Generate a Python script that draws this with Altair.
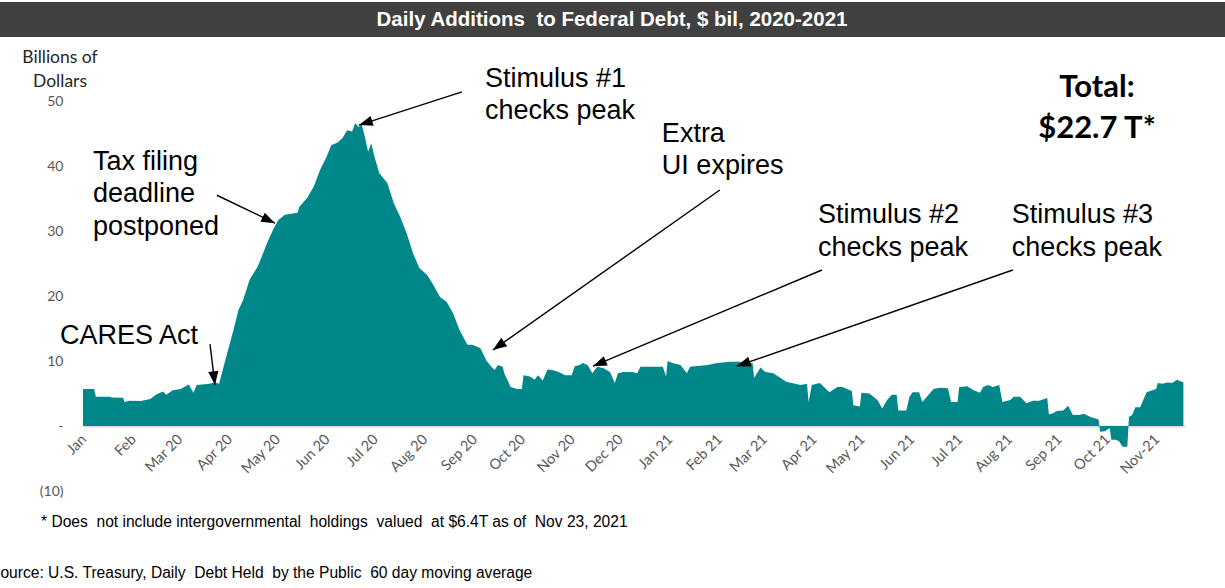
import json
import math

import altair as alt
import pandas as pd

# 60-day moving average of daily additions to federal debt held by the public,
# $ billions, keyed by days elapsed since 2020-01-01
day = [0, 7, 8, 17, 18, 25, 26, 29, 36, 42, 46, 50, 52, 56, 61, 66, 69, 71, 79, 82,
       85, 86, 90, 94, 97, 100, 104, 109, 112, 115, 119, 122, 126, 134, 135, 140, 144,
       148, 152, 155, 159, 162, 165, 168, 170, 172, 174, 176, 178, 180, 182, 185, 190,
       194, 198, 202, 206, 210, 215, 218, 223, 227, 231, 235, 240, 243, 248, 252, 255,
       257, 259, 262, 263, 267, 271, 274, 275, 279, 282, 284, 287, 290, 293, 297, 301,
       305, 307, 310, 312, 315, 318, 321, 325, 329, 332, 334, 337, 343, 346, 348, 356,
       362, 364, 365, 368, 373, 377, 379, 390, 396, 404, 410, 418, 419, 423, 426, 431,
       439, 448, 452, 453, 455, 460, 466, 471, 474, 480, 481, 485, 486, 491, 496, 499,
       502, 505, 508, 509, 514, 516, 518, 522, 524, 531, 535, 540, 542, 546, 547, 552,
       556, 560, 562, 565, 568, 572, 574, 579, 581, 585, 589, 593, 597, 602, 603, 605,
       608, 612, 615, 618, 622, 625, 629, 634, 635, 638, 641, 642, 645, 647, 649, 652,
       653, 655, 657, 660, 664, 670, 671, 674, 677, 680, 683, 687]
bil = [5.7, 5.7, 4.5, 4.5, 4.4, 4.35, 3.7, 3.9, 3.85, 4.15, 4.9, 5.3, 4.8, 5.5, 5.7, 6.4,
       5.1, 6.3, 6.5, 6.7, 6.5, 7.5, 11.2, 14.8, 17.8, 19.4, 22.5, 24.5, 26.3, 28.2, 30.4,
       31.7, 32.5, 32.8, 33.7, 35.1, 36.8, 39.4, 41.4, 43.2, 43.6, 44.3, 45.5, 45.3, 46.6,
       46.0, 46.4, 44.5, 42.2, 43.5, 41.4, 38.9, 37.4, 34.3, 32.2, 29.7, 26.6, 24.3, 23.2,
       22.0, 19.8, 19.1, 17.4, 14.8, 12.5, 12.5, 12.0, 10.0, 9.1, 8.6, 9.4, 9.1, 8.1, 6.0,
       5.7, 5.7, 7.8, 7.6, 7.1, 7.8, 7.0, 8.7, 8.6, 8.3, 7.8, 7.8, 9.2, 9.4, 9.7, 9.4, 8.1,
       9.1, 8.9, 8.3, 6.6, 8.1, 8.3, 8.3, 8.1, 9.1, 9.1, 9.1, 7.6, 10.0, 9.7, 9.4, 8.1, 9.1,
       9.4, 9.7, 9.9, 9.9, 9.7, 7.4, 9.0, 8.3, 8.1, 6.8, 6.3, 6.5, 3.7, 6.3, 6.6, 5.2, 6.0,
       6.0, 5.4, 3.2, 3.0, 5.1, 5.0, 4.0, 2.7, 4.0, 4.8, 4.8, 2.4, 2.4, 4.5, 5.2, 5.2, 3.7,
       5.7, 5.9, 5.8, 3.7, 3.7, 6.0, 6.1, 5.5, 5.1, 6.0, 6.3, 6.0, 6.3, 3.7, 4.0, 4.5, 4.5,
       3.5, 3.9, 3.9, 4.3, 1.8, 1.9, 2.3, 2.4, 3.1, 1.7, 1.7, 1.9, 1.4, 1.0, -0.9, -0.8,
       -0.3, -2.1, -2.1, -2.4, -3.2, -3.2, 1.4, 1.7, 2.9, 2.9, 5.2, 5.7, 6.6, 6.5, 6.7, 6.6,
       7.1, 6.7]

month_labels = ["Jan", "Feb", "Mar 20", "Apr 20", "May 20", "Jun 20", "Jul 20", "Aug 20",
                "Sep 20", "Oct 20", "Nov 20", "Dec 20", "Jan 21", "Feb 21", "Mar 21",
                "Apr 21", "May 21", "Jun 21", "Jul 21", "Aug 21", "Sep 21", "Oct 21",
                "Nov-21"]
y_ticks = [-10, 0, 10, 20, 30, 40, 50]

# event call-outs: label, where the label sits, and where its arrow runs
note_text = ["CARES Act", "Tax filing\ndeadline\npostponed", "Stimulus #1\nchecks peak",
             "Extra\nUI expires", "Stimulus #2\nchecks peak", "Stimulus #3\nchecks peak"]
note_day = [-14.4, 6.2, 250.9, 361.4, 458.8, 579.9]
note_bil = [12.6, 39.4, 52.2, 43.7, 31.2, 31.2]
arrow_from_day = [79.3, 83.6, 236.6, 397.6, 461.3, 580.5]
arrow_from_bil = [12.6, 35.5, 51.4, 36.3, 24.0, 24.0]
arrow_to_day = [82.4, 119.9, 172.3, 255.9, 318.4, 408.2]
arrow_to_bil = [6.3, 31.2, 46.3, 11.7, 9.2, 9.2]

# ---------------------------------------------------------------- layout
W, H = 1102, 390
PAD_L, PAD_T, PAD_R, PAD_B = 83, 101, 40, 97
END_DAY = 688
Y_MIN, Y_MAX = -10, 50
TEAL = "#00878A"
GREY = "#595959"
ARIAL = "'Liberation Sans', Arial, sans-serif"
CALIBRI = "Lato, 'Open Sans', sans-serif"
NBSP = "\u00a0"

START = pd.Timestamp("2020-01-01")


def to_date(days):
    return START + pd.to_timedelta(days, unit="D")


series = pd.DataFrame({"date": to_date(day), "bil": bil})

px_day = W / END_DAY
px_bil = H / (Y_MAX - Y_MIN)
angles = []
for d0, b0, d1, b1 in zip(arrow_from_day, arrow_from_bil, arrow_to_day, arrow_to_bil):
    dx = (d1 - d0) * px_day
    dy = -(b1 - b0) * px_bil
    angles.append(math.degrees(math.atan2(dx, -dy)) % 360)

notes = pd.DataFrame({
    "label": note_text,
    "tx": to_date(note_day), "ty": note_bil,
    "x0": to_date(arrow_from_day), "y0": arrow_from_bil,
    "x1": to_date(arrow_to_day), "y1": arrow_to_bil,
    "ang": angles,
})

x_scale = alt.Scale(domain=[alt.DateTime(year=2020, month=1, date=1),
                            alt.DateTime(year=2021, month=11, date=19)])
y_scale = alt.Scale(domain=[Y_MIN, Y_MAX], nice=False)

tick_dates = [alt.DateTime(year=2020 + i // 12, month=i % 12 + 1, date=1)
              for i in range(len(month_labels))]
label_expr = json.dumps(month_labels) + "[(year(datum.value) - 2020) * 12 + month(datum.value)]"

x_axis = alt.Axis(values=tick_dates, labelExpr=label_expr, labelAngle=315,
                  labelAlign="right", labelBaseline="middle", labelPadding=11,
                  labelOffset=1, labelFlush=False, labelOverlap=False, ticks=False,
                  tickSize=0, grid=False, domainColor="#D9D9D9", domainWidth=2,
                  offset=-65, labelFont=CALIBRI, labelFontSize=14.5, labelColor=GREY)
y_axis = alt.Axis(values=y_ticks, grid=False, domain=False, ticks=False, tickSize=0,
                  labelPadding=20, labelFont=CALIBRI, labelFontSize=14, labelColor=GREY,
                  labelExpr="datum.value == 0 ? '-' : (datum.value < 0 ? '(' + abs(datum.value) + ')' : '' + datum.value)")

one = pd.DataFrame({"k": [0]})

title_bar = alt.Chart(one).mark_rect(color="#404040").encode(
    x=alt.value(-PAD_L), x2=alt.value(W + PAD_R), y=alt.value(2 - PAD_T), y2=alt.value(37 - PAD_T))
title_text = alt.Chart(one).mark_text(
    text=f"Daily Additions{NBSP} to Federal Debt, $ bil, 2020-2021", font=ARIAL, fontSize=20.5,
    fontWeight="bold", color="white", align="center", baseline="middle").encode(
    x=alt.value(612 - PAD_L), y=alt.value(20 - PAD_T))

area = alt.Chart(series).mark_area(color=TEAL, interpolate="linear").encode(
    x=alt.X("date:T", scale=x_scale, axis=x_axis, title=None),
    y=alt.Y("bil:Q", scale=y_scale, axis=y_axis, title=None),
)

rules = alt.Chart(notes).mark_rule(color="black", strokeWidth=1.4).encode(
    x=alt.X("x0:T", title=None), x2="x1:T",
    y=alt.Y("y0:Q", title=None), y2="y1:Q")
heads = alt.Chart(notes).mark_point(
    shape="M0,0L0.37,1L-0.37,1Z", filled=True, size=760, color="black", opacity=1,
    strokeWidth=0).encode(
    x=alt.X("x1:T", title=None), y=alt.Y("y1:Q", title=None),
    angle=alt.Angle("ang:Q", scale=None))
labels = alt.Chart(notes).mark_text(
    align="left", baseline="alphabetic", font=ARIAL, fontSize=27, lineHeight=32.5,
    lineBreak="\n", color="black").encode(
    x=alt.X("tx:T", title=None), y=alt.Y("ty:Q", title=None), text="label:N")

y_title = alt.Chart(one).mark_text(
    text=["Billions of", "Dollars"], font=CALIBRI, fontSize=17.5, lineHeight=24,
    color="#262626", align="center", baseline="alphabetic").encode(
    x=alt.value(60 - PAD_L), y=alt.value(63 - PAD_T))
total = alt.Chart(one).mark_text(
    text=["Total:", "$22.7 T*"], font=CALIBRI, fontSize=31, fontWeight="bold",
    lineHeight=41, color="black", align="center", baseline="alphabetic").encode(
    x=alt.value(1097 - PAD_L), y=alt.value(97 - PAD_T))
footnote = alt.Chart(one).mark_text(
    text=(f"* Does{NBSP} not include intergovernmental{NBSP} holdings{NBSP} valued{NBSP} "
          f"at $6.4T as of{NBSP} Nov 23, 2021"),
    font=ARIAL, fontSize=15.6, color="black", align="left", baseline="alphabetic").encode(
    x=alt.value(41 - PAD_L), y=alt.value(527 - PAD_T))
source = alt.Chart(one).mark_text(
    text=(f"Source: U.S. Treasury, Daily{NBSP} Debt Held{NBSP} by the Public{NBSP} "
          "60 day moving average"),
    font=ARIAL, fontSize=15.6, color="black", align="left", baseline="alphabetic").encode(
    x=alt.value(-10 - PAD_L), y=alt.value(578 - PAD_T))

chart = alt.layer(
    title_bar, title_text, area, rules, heads, labels, y_title, total, footnote, source
).properties(
    width=W, height=H,
    autosize=alt.AutoSizeParams(type="none"),
    padding={"left": PAD_L, "top": PAD_T, "right": PAD_R, "bottom": PAD_B},
    background="white",
).configure_view(stroke=None)

chart.save("out.html", embed_options={"renderer": "svg", "actions": False})
